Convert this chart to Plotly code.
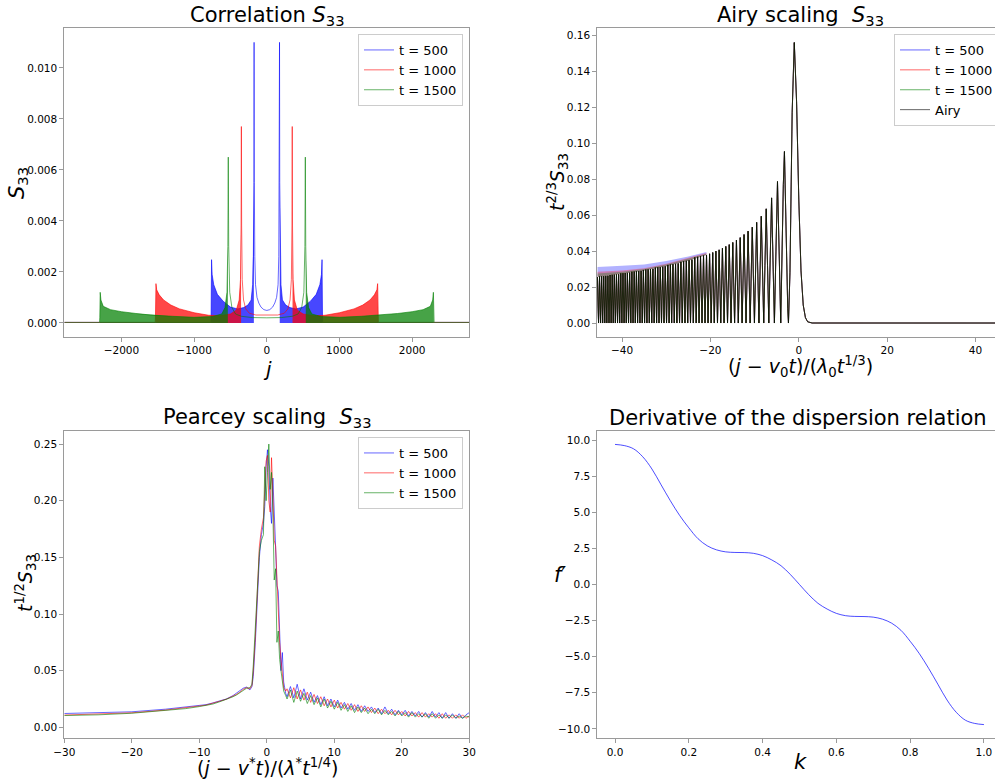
import plotly.graph_objects as go

W, H = 995, 781
FONT = "DejaVu Sans"

# ---------------- Panel 1: Correlation S33 (j >= 0 half; curve is symmetric in j) ----------------
CORR_J_500 = [0, 40, 80, 110, 135, 155, 165, 172, 175, 178, 185, 195, 215, 260, 320, 400, 500, 600, 680, 730, 752, 760, 766, 770, 2786]
CORR_S_500 = [0.00049, 0.00052, 0.00062, 0.00078, 0.0010, 0.0015, 0.0026, 0.0055, 0.0110, 0.0055, 0.0026, 0.0015, 0.0009,
              0.0007, 0.0006, 0.00055, 0.00062, 0.00085, 0.00112, 0.0015, 0.0019, 0.00248, 0.0003, 0.00002, 0.00002]
CORR_BAND_500 = (178, 766)

CORR_J_1000 = [0, 150, 240, 290, 320, 338, 346, 350, 354, 362, 380, 420, 500, 650, 800, 1000, 1200, 1320, 1420, 1480, 1515, 1525, 1532, 1536, 2786]
CORR_S_1000 = [0.0003, 0.00031, 0.00038, 0.00055, 0.0009, 0.0017, 0.0038, 0.0077, 0.0038, 0.0017, 0.0009, 0.0005, 0.00035,
               0.00028, 0.0003, 0.0004, 0.00055, 0.0007, 0.0009, 0.0011, 0.0013, 0.00154, 0.0002, 0.00002, 0.00002]
CORR_BAND_1000 = (354, 1532)

CORR_J_1500 = [0, 200, 350, 430, 480, 510, 524, 530, 536, 548, 575, 620, 750, 1000, 1300, 1600, 1800, 2000, 2150, 2250, 2282, 2292, 2298, 2302, 2786]
CORR_S_1500 = [0.0002, 0.00021, 0.00026, 0.00035, 0.0006, 0.0012, 0.003, 0.0065, 0.003, 0.0012, 0.0006, 0.00035, 0.00025,
               0.00022, 0.00026, 0.00031, 0.00037, 0.00044, 0.00052, 0.00065, 0.0009, 0.0012, 0.0002, 0.00002, 0.00002]
CORR_BAND_1500 = (536, 2298)

# ---------------- Panel 2: Airy scaling ----------------
AIRY_X = [45.0, 3.0, 2.0, 1.5, 1.0, 0.5, 0.0, -0.5, -1.02, -1.5, -2.0, -2.34,
          -2.5, -2.75, -3.0, -3.25, -3.5, -3.8, -4.09,
          -4.45, -4.82, -5.17, -5.52,
          -5.84, -6.16, -6.48, -6.79,
          -7.08, -7.37, -7.66, -7.94,
          -8.49, -9.02, -9.54, -10.04, -10.53, -11.01, -11.48, -11.94, -12.39, -12.83, -13.26, -13.69, -14.11, -14.53,
          -14.94, -15.34, -15.74, -16.13, -16.52, -16.91, -17.28, -17.66, -18.03, -18.40, -18.76, -19.13, -19.48, -19.84,
          -20.19, -20.54,
          -20.88, -21.22, -21.56, -21.90, -22.24, -22.57, -22.90, -23.22, -23.55, -23.87,
          -24.19, -24.51, -24.83, -25.14, -25.45, -25.76, -26.07, -26.38, -26.68, -26.99,
          -27.29, -27.59, -27.89, -28.18, -28.48, -28.77, -29.06, -29.35, -29.64, -29.93,
          -30.22, -30.50, -30.79, -31.07, -31.35, -31.63, -31.91, -32.18, -32.46, -32.73,
          -33.01, -33.28, -33.56, -33.83, -34.10, -34.37, -34.63, -34.90, -35.17, -35.43,
          -35.69, -35.95, -36.22, -36.48, -36.74, -37.00, -37.25, -37.51, -37.77, -38.02,
          -38.28, -38.53, -38.79, -39.04, -39.29, -39.54, -39.79, -40.04, -40.28, -40.53,
          -40.77, -41.02, -41.26, -41.51, -41.75, -41.99, -42.23, -42.47, -42.71, -42.95,
          -43.20, -43.44, -43.68, -43.91, -44.15, -44.39, -44.62, -44.86, -45.09, -45.32,
          -45.56, -45.79]
AIRY_Y = [0.0, 0.00002, 0.0007, 0.003, 0.010, 0.029, 0.0685, 0.123, 0.156, 0.117, 0.028, 0.0,
          0.008, 0.040, 0.078, 0.0954, 0.077, 0.025, 0.0,
          0.040, 0.0787, 0.040, 0.0,
          0.035, 0.0696, 0.035, 0.0,
          0.032, 0.0635, 0.032, 0.0,
          0.0594, 0.0, 0.0560, 0.0, 0.0533, 0.0, 0.0511, 0.0, 0.0492, 0.0, 0.0475, 0.0, 0.0461, 0.0,
          0.0448, 0.0, 0.0436, 0.0, 0.0426, 0.0, 0.0416, 0.0, 0.0407, 0.0, 0.0400, 0.0, 0.0392, 0.0,
          0.0385, 0.0,
          0.0378, 0.0, 0.0375, 0.0, 0.0372, 0.0, 0.0368, 0.0, 0.0365, 0.0,
          0.0352, 0.0, 0.0349, 0.0, 0.0346, 0.0, 0.0343, 0.0, 0.0340, 0.0,
          0.0331, 0.0, 0.0329, 0.0, 0.0327, 0.0, 0.0325, 0.0, 0.0323, 0.0,
          0.0315, 0.0, 0.0313, 0.0, 0.0311, 0.0, 0.0310, 0.0, 0.0308, 0.0,
          0.0301, 0.0, 0.0300, 0.0, 0.0298, 0.0, 0.0297, 0.0, 0.0295, 0.0,
          0.0290, 0.0, 0.0289, 0.0, 0.0288, 0.0, 0.0286, 0.0, 0.0285, 0.0,
          0.0280, 0.0, 0.0279, 0.0, 0.0278, 0.0, 0.0277, 0.0, 0.0276, 0.0,
          0.0271, 0.0, 0.0270, 0.0, 0.0269, 0.0, 0.0268, 0.0, 0.0267, 0.0,
          0.0263, 0.0, 0.0262, 0.0, 0.0261, 0.0, 0.0260, 0.0, 0.0259, 0.0,
          0.0256, 0.0]
# finite-t data overshoot the Airy peaks slightly in the dense region: upper fringe of each series
AIRY_FRINGE_X = [-20.9, -25.0, -30.0, -35.0, -40.0, -45.6]
AIRY_FRINGE_BASE = [0.0378, 0.0346, 0.0316, 0.0292, 0.0274, 0.0256]
AIRY_FRINGE_500 = [0.0395, 0.0370, 0.0345, 0.0325, 0.0318, 0.0312]
AIRY_FRINGE_1000 = [0.0390, 0.0362, 0.0330, 0.0305, 0.0292, 0.0285]
AIRY_FRINGE_1500 = [0.0385, 0.0358, 0.0325, 0.0300, 0.0285, 0.0275]

# ---------------- Panel 3: Pearcey scaling ----------------
PEARCEY_CORE_X = [-30, -25, -20, -15, -12, -10, -9, -8, -7, -6, -5, -4.5, -4, -3.5, -3, -2.5, -2.2, -2.0, -1.7, -1.4,
                  -1.1, -0.8, -0.5, -0.3, -0.1, 0.1, 0.3, 0.5, 0.7, 0.9, 1.1, 1.3, 1.5, 1.7, 1.9, 2.1, 2.3, 2.5, 2.8]
PEARCEY_CORE_500 = [0.0122, 0.0128, 0.0137, 0.0160, 0.0178, 0.0195, 0.0200, 0.0215, 0.0235, 0.0250, 0.0280, 0.0300,
                    0.0320, 0.0345, 0.0355, 0.0330, 0.0360, 0.045, 0.075, 0.110, 0.150, 0.170, 0.180, 0.195, 0.230,
                    0.245, 0.230, 0.195, 0.180, 0.220, 0.180, 0.160, 0.125, 0.120, 0.085, 0.050, 0.066, 0.040, 0.030]
PEARCEY_CORE_1000 = [0.0108, 0.0115, 0.0128, 0.0152, 0.0170, 0.0188, 0.0196, 0.0210, 0.0230, 0.0248, 0.0275, 0.0290,
                     0.0310, 0.0335, 0.0350, 0.0340, 0.0370, 0.050, 0.080, 0.115, 0.160, 0.175, 0.185, 0.210, 0.235,
                     0.240, 0.200, 0.190, 0.238, 0.205, 0.165, 0.160, 0.130, 0.103, 0.075, 0.060, 0.045, 0.035, 0.032]
PEARCEY_CORE_1500 = [0.0104, 0.0110, 0.0124, 0.0148, 0.0165, 0.0183, 0.0192, 0.0205, 0.0225, 0.0245, 0.0270, 0.0285,
                     0.0305, 0.0330, 0.0345, 0.0350, 0.0380, 0.055, 0.085, 0.120, 0.155, 0.165, 0.170, 0.230, 0.200,
                     0.225, 0.250, 0.210, 0.225, 0.190, 0.130, 0.140, 0.075, 0.085, 0.060, 0.050, 0.040, 0.032, 0.028]
PEARCEY_TAIL_START, PEARCEY_TAIL_STEP = 3.0, 0.5
PEARCEY_TAIL_500 = [0.027, 0.036, 0.026, 0.038, 0.025, 0.034, 0.024, 0.031, 0.022, 0.028, 0.020, 0.027, 0.019, 0.025,
                    0.018, 0.024, 0.017, 0.022, 0.016, 0.021, 0.015, 0.020, 0.014, 0.019, 0.014, 0.018, 0.013, 0.017,
                    0.012, 0.018, 0.012, 0.016, 0.011, 0.015, 0.011, 0.015, 0.010, 0.014, 0.010, 0.014, 0.009, 0.013,
                    0.009, 0.014, 0.009, 0.013, 0.008, 0.013, 0.008, 0.012, 0.008, 0.012, 0.008, 0.011, 0.013]
PEARCEY_TAIL_1000 = [0.034, 0.026, 0.035, 0.025, 0.033, 0.024, 0.031, 0.022, 0.029, 0.021, 0.027, 0.019, 0.025, 0.018,
                     0.024, 0.017, 0.022, 0.016, 0.021, 0.015, 0.020, 0.014, 0.019, 0.014, 0.018, 0.013, 0.017, 0.012,
                     0.016, 0.012, 0.015, 0.011, 0.015, 0.011, 0.014, 0.010, 0.014, 0.010, 0.013, 0.009, 0.013, 0.009,
                     0.012, 0.009, 0.012, 0.008, 0.012, 0.008, 0.011, 0.008, 0.011, 0.008, 0.011, 0.008, 0.010]
PEARCEY_TAIL_1500 = [0.025, 0.033, 0.022, 0.032, 0.023, 0.030, 0.021, 0.028, 0.020, 0.026, 0.018, 0.025, 0.017, 0.023,
                     0.016, 0.022, 0.015, 0.020, 0.014, 0.019, 0.013, 0.018, 0.013, 0.017, 0.012, 0.016, 0.012, 0.016,
                     0.011, 0.015, 0.011, 0.014, 0.010, 0.014, 0.010, 0.013, 0.009, 0.013, 0.009, 0.012, 0.009, 0.012,
                     0.008, 0.012, 0.008, 0.011, 0.008, 0.011, 0.008, 0.011, 0.008, 0.010, 0.008, 0.010, 0.009]

# ---------------- Panel 4: derivative of the dispersion relation ----------------
DISP_K = [0.0, 0.025, 0.05, 0.075, 0.1, 0.125, 0.15, 0.175, 0.2, 0.225, 0.25, 0.275, 0.3, 0.325, 0.35, 0.375, 0.4,
          0.425, 0.45, 0.475, 0.5, 0.525, 0.55, 0.575, 0.6, 0.625, 0.65, 0.675, 0.7, 0.725, 0.75, 0.775, 0.8, 0.825,
          0.85, 0.875, 0.9, 0.925, 0.95, 0.975, 1.0]
DISP_F = [9.70, 9.62, 9.40, 8.85, 8.00, 6.90, 5.80, 4.79, 3.93, 3.17, 2.68, 2.40, 2.26, 2.22, 2.21, 2.16, 2.00, 1.70,
          1.30, 0.70, 0.00, -0.70, -1.30, -1.70, -2.00, -2.16, -2.21, -2.22, -2.26, -2.40, -2.68, -3.17, -3.93, -4.79,
          -5.80, -6.90, -8.00, -8.85, -9.40, -9.62, -9.70]

SERIES = [("t = 500", (0, 0, 255)), ("t = 1000", (255, 0, 0)), ("t = 1500", (0, 128, 0))]


def rgba(c, a):
    return "rgba(%d,%d,%d,%.2f)" % (c[0], c[1], c[2], a)


def mirror(js, ss):
    xs = [-j for j in reversed(js)] + js[1:]
    ys = list(reversed(ss)) + ss[1:]
    return xs, ys


def band_polygon(js, ss, lo, hi):
    pts = [(j, s) for j, s in zip(js, ss) if lo <= j <= hi]
    rx = [p[0] for p in pts] + [hi, lo]
    ry = [p[1] for p in pts] + [0.0, 0.0]
    lx = [-v for v in rx]
    return rx + [None] + lx, ry + [None] + ry


fig = go.Figure()

# Panel 1
corr = [(CORR_J_500, CORR_S_500, CORR_BAND_500), (CORR_J_1000, CORR_S_1000, CORR_BAND_1000),
        (CORR_J_1500, CORR_S_1500, CORR_BAND_1500)]
for (name, col), (js, ss, band) in zip(SERIES, corr):
    bx, by = band_polygon(js, ss, band[0], band[1])
    fig.add_trace(go.Scatter(x=bx, y=by, mode="lines", fill="toself", fillcolor=rgba(col, 0.72),
                             line=dict(width=0), showlegend=False, hoverinfo="skip", xaxis="x", yaxis="y"))
    fx, fy = mirror(js, ss)
    fig.add_trace(go.Scatter(x=fx, y=fy, mode="lines", name=name, line=dict(color=rgba(col, 0.6), width=1),
                             xaxis="x", yaxis="y", legend="legend"))

# Panel 2
fringes = [AIRY_FRINGE_500, AIRY_FRINGE_1000, AIRY_FRINGE_1500]
for (name, col), fr in zip(SERIES, fringes):
    fig.add_trace(go.Scatter(x=AIRY_FRINGE_X + AIRY_FRINGE_X[::-1], y=fr + AIRY_FRINGE_BASE[::-1], mode="lines",
                             fill="toself", fillcolor=rgba(col, 0.3), line=dict(width=0), showlegend=False,
                             hoverinfo="skip", xaxis="x2", yaxis="y2"))
    fig.add_trace(go.Scatter(x=AIRY_X, y=AIRY_Y, mode="lines", name=name, line=dict(color=rgba(col, 0.6), width=1),
                             xaxis="x2", yaxis="y2", legend="legend2"))
fig.add_trace(go.Scatter(x=AIRY_X, y=AIRY_Y, mode="lines", name="Airy", line=dict(color="rgba(0,0,0,0.6)", width=1),
                         xaxis="x2", yaxis="y2", legend="legend2"))

# Panel 3
pear = [(PEARCEY_CORE_500, PEARCEY_TAIL_500), (PEARCEY_CORE_1000, PEARCEY_TAIL_1000),
        (PEARCEY_CORE_1500, PEARCEY_TAIL_1500)]
for (name, col), (core, tail) in zip(SERIES, pear):
    tx = [PEARCEY_TAIL_START + PEARCEY_TAIL_STEP * i for i in range(len(tail))]
    fig.add_trace(go.Scatter(x=PEARCEY_CORE_X + tx, y=core + tail, mode="lines", name=name,
                             line=dict(color=rgba(col, 0.6), width=1), xaxis="x3", yaxis="y3", legend="legend3"))

# Panel 4
fig.add_trace(go.Scatter(x=DISP_K, y=DISP_F, mode="lines", line=dict(color="rgba(0,0,255,0.7)", width=1, shape="spline"),
                         showlegend=False, xaxis="x4", yaxis="y4"))

# ---------------- layout ----------------
LEFT = [64.3 / W, 469.3 / W]
RIGHT = [597.3 / W, 1.0]
TOP = [1 - 336.7 / H, 1 - 28.3 / H]
BOT = [1 - 738.3 / H, 1 - 430.7 / H]
SPINE = "#9a9a9a"


def axis(domain, anchor, rng, mirror=True, **kw):
    d = dict(domain=domain, anchor=anchor, range=rng, showline=True, linecolor=SPINE, linewidth=1, mirror=mirror,
             ticks="outside", ticklen=4, tickwidth=1, tickcolor=SPINE, showgrid=False, zeroline=False,
             tickfont=dict(family=FONT, size=10.5, color="black"))
    d.update(kw)
    return d


legend_common = dict(bgcolor="rgba(255,255,255,0.8)", bordercolor="#cccccc", borderwidth=1,
                     font=dict(family=FONT, size=13, color="black"), itemwidth=30, tracegroupgap=0)

fig.update_layout(
    width=W, height=H, margin=dict(l=0, r=0, t=0, b=0, autoexpand=False),
    paper_bgcolor="white", plot_bgcolor="white", font=dict(family=FONT),
    xaxis=axis(LEFT, "y", [-2786, 2786], tickvals=[-2000, -1000, 0, 1000, 2000]),
    yaxis=axis(TOP, "x", [-0.00054, 0.01155], tickvals=[0, 0.002, 0.004, 0.006, 0.008, 0.010], tickformat=".3f"),
    xaxis2=axis(RIGHT, "y2", [-45.6, 44.4], mirror=True, tickvals=[-40, -20, 0, 20, 40]),
    yaxis2=axis(TOP, "x2", [-0.0076, 0.1639], mirror=False, tickvals=[0, 0.02, 0.04, 0.06, 0.08, 0.10, 0.12, 0.14, 0.16],
                tickformat=".2f"),
    xaxis3=axis(LEFT, "y3", [-30, 30], tickvals=[-30, -20, -10, 0, 10, 20, 30]),
    yaxis3=axis(BOT, "x3", [-0.0097, 0.2618], tickvals=[0, 0.05, 0.10, 0.15, 0.20, 0.25], tickformat=".2f"),
    xaxis4=axis(RIGHT, "y4", [-0.048, 1.030], mirror=True, tickvals=[0, 0.2, 0.4, 0.6, 0.8, 1.0], tickformat=".1f"),
    yaxis4=axis(BOT, "x4", [-10.65, 10.65], mirror=False, tickvals=[-10, -7.5, -5, -2.5, 0, 2.5, 5, 7.5, 10],
                tickformat=".1f"),
    legend=dict(x=463 / W, y=1 - 34 / H, xanchor="right", yanchor="top", **legend_common),
    legend2=dict(x=894 / W, y=1 - 34 / H, xanchor="left", yanchor="top", **legend_common),
    legend3=dict(x=463 / W, y=1 - 437 / H, xanchor="right", yanchor="top", **legend_common),
)


def ann(text, xp, yp, size, angle=0):
    return dict(text=text, x=xp / W, y=1 - yp / H, xref="paper", yref="paper", showarrow=False,
                font=dict(family=FONT, size=size, color="black"), textangle=angle, xanchor="center", yanchor="middle")


NB = "\u00a0"
annotations = [
    ann("Correlation <i>S</i><sub>33</sub>", 267, 16, 21),
    ann("Airy scaling " + NB + "<i>S</i><sub>33</sub>", 800, 16, 21),
    ann("Pearcey scaling " + NB + "<i>S</i><sub>33</sub>", 267, 418, 21),
    ann("Derivative of the dispersion relation", 798, 418, 21),
    ann("<i>j</i>", 267, 369, 20),
    ann("(<i>j</i> − <i>v</i><sub>0</sub><i>t</i>)/(<i>λ</i><sub>0</sub><i>t</i><sup>1/3</sup>)", 800, 367, 19),
    ann("(<i>j</i> − <i>v</i><sup>*</sup><i>t</i>)/(<i>λ</i><sup>*</sup><i>t</i><sup>1/4</sup>)", 267, 767, 19),
    ann("<i>k</i>", 800, 762, 21),
    ann("<i>S</i><sub>33</sub>", 18, 183, 21, -90),
    ann("<i>t</i><sup>2/3</sup><i>S</i><sub>33</sub>", 557, 182, 19, -90),
    ann("<i>t</i><sup>1/2</sup><i>S</i><sub>33</sub>", 25, 583, 19, -90),
    ann("<i>f</i>′", 560, 575, 21),
]
fig.update_layout(annotations=annotations)

fig.write_html("out.html", config={"displayModeBar": False},
               post_script="document.body.style.margin='0';document.body.style.overflow='hidden';")
